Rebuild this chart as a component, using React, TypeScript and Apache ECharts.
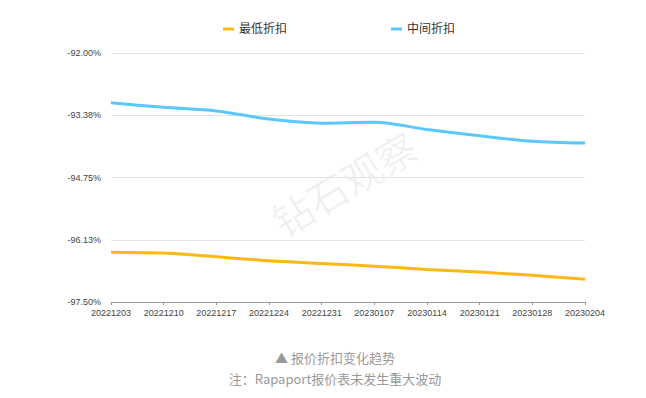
import React, { useEffect, useRef } from "react";
import * as echarts from "echarts";

const categories = ["20221203", "20221210", "20221217", "20221224", "20221231", "20230107", "20230114", "20230121", "20230128", "20230204"];
const minDiscount = [-96.40, -96.42, -96.50, -96.59, -96.65, -96.71, -96.78, -96.84, -96.91, -97.00];
const midDiscount = [-93.10, -93.20, -93.28, -93.46, -93.55, -93.53, -93.69, -93.83, -93.95, -93.99];
const yTicks = [-97.5, -96.125, -94.75, -93.375, -92];
const seriesNames = ["最低折扣", "中间折扣"];
const captionLines = ["▲ 报价折扣变化趋势", "注：Rapaport报价表未发生重大波动"];
const watermark = "钻石观察";

export default function App() {
  const ref = useRef<HTMLDivElement>(null);
  useEffect(() => {
    const chart = echarts.init(ref.current!, null, { renderer: "svg" });
    const font = "Helvetica, Arial, 'Liberation Sans', 'Noto Sans CJK SC', sans-serif";
    chart.setOption({
      animation: false,
      textStyle: { fontFamily: font },
      legend: {
        top: 18,
        left: 218,
        itemGap: 104,
        itemWidth: 11,
        itemHeight: 3,
        icon: "rect",
        textStyle: { fontSize: 12, color: "#333", fontFamily: font },
        data: seriesNames,
      },
      grid: { left: 111, right: 61, top: 53, bottom: 96 },
      xAxis: {
        type: "category",
        data: categories,
        boundaryGap: false,
        axisLine: { lineStyle: { color: "#999", width: 1 } },
        axisTick: { show: true, length: 3, lineStyle: { color: "#999" } },
        axisLabel: { fontSize: 9, color: "#444", margin: 6, interval: 0 },
      },
      yAxis: {
        type: "value",
        min: -97.5,
        max: -92,
        axisLine: { show: false },
        axisTick: { show: false, customValues: yTicks },
        splitLine: { show: true, lineStyle: { color: "#e3e3e3", width: 1 } },
        axisLabel: {
          fontSize: 9,
          color: "#444",
          margin: 10,
          customValues: yTicks,
          formatter: (v: number) => v.toFixed(2) + "%",
        },
      },
      graphic: [
        {
          type: "text",
          x: 344,
          y: 183,
          rotation: (31 * Math.PI) / 180,
          style: {
            text: watermark,
            fontSize: 40,
            fill: "rgba(0,0,0,0.06)",
            fontFamily: "'Noto Sans CJK SC', sans-serif",
            align: "center",
            verticalAlign: "middle",
          },
        },
        {
          type: "text",
          x: 335,
          y: 357,
          style: {
            text: captionLines[0],
            fontSize: 13,
            fill: "#999",
            fontFamily: "'Noto Sans CJK SC', sans-serif",
            align: "center",
            verticalAlign: "middle",
          },
        },
        {
          type: "text",
          x: 335,
          y: 378,
          style: {
            text: captionLines[1],
            fontSize: 13,
            fill: "#999",
            fontFamily: "'Noto Sans CJK SC', sans-serif",
            align: "center",
            verticalAlign: "middle",
          },
        },
      ],
      series: [
        {
          name: seriesNames[0],
          type: "line",
          data: minDiscount,
          smooth: 0.3,
          showSymbol: false,
          symbol: "none",
          lineStyle: { width: 3, color: "#FDB813" },
          itemStyle: { color: "#FDB813" },
        },
        {
          name: seriesNames[1],
          type: "line",
          data: midDiscount,
          smooth: 0.3,
          showSymbol: false,
          symbol: "none",
          lineStyle: { width: 3, color: "#5AC8FA" },
          itemStyle: { color: "#5AC8FA" },
        },
      ],
    });
    return () => chart.dispose();
  }, []);
  return <div ref={ref} style={{ position: "fixed", left: 0, top: 0, width: 646, height: 398, background: "#fff" }} />;
}
